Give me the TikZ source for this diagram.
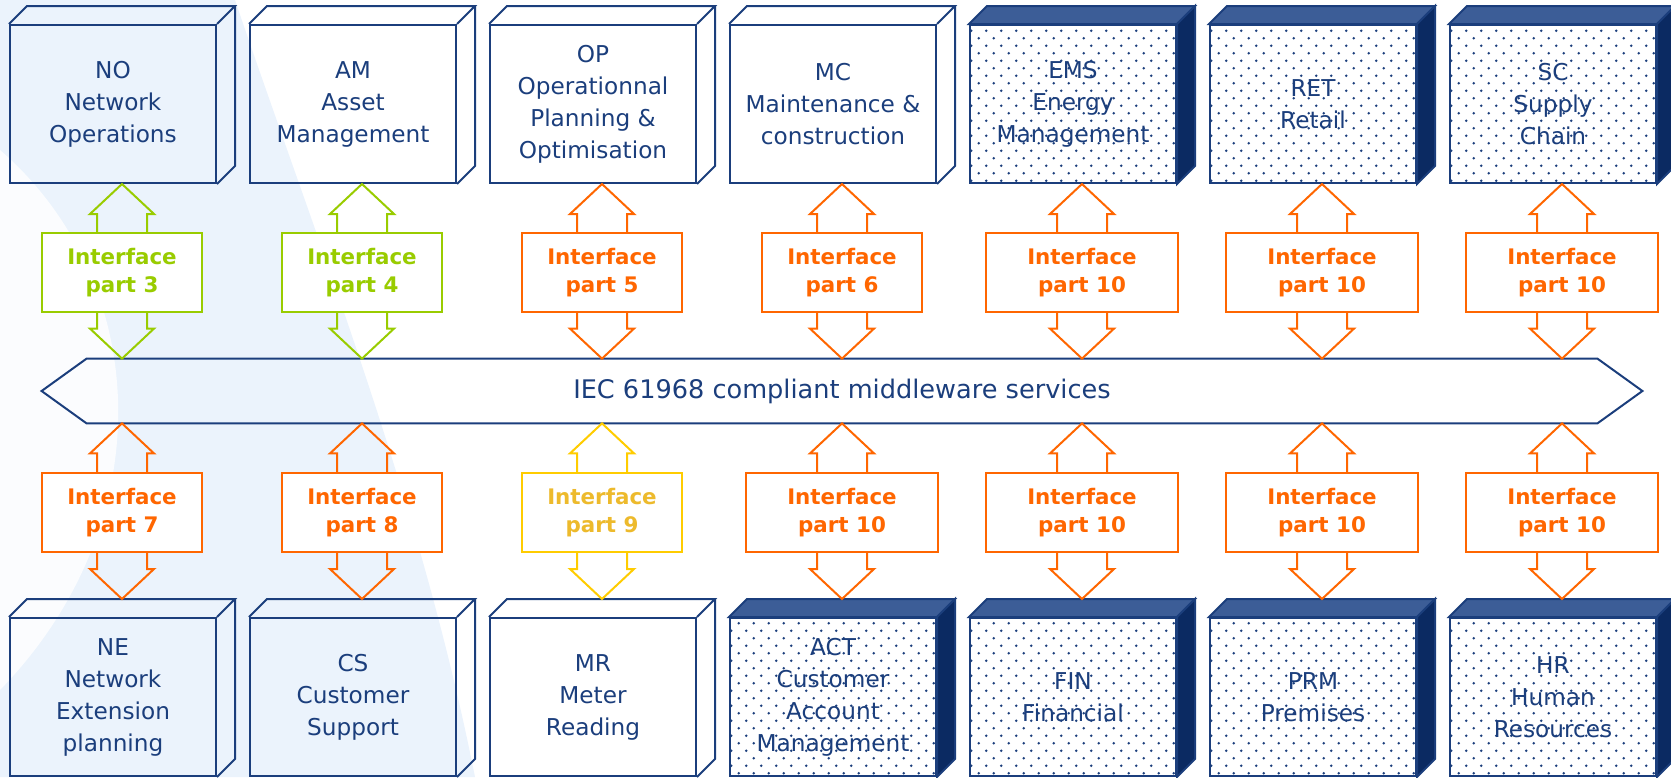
\documentclass[tikz,border=0pt]{standalone}
\usepackage{fontspec}
\setmainfont{DejaVu Sans}
\usetikzlibrary{calc,patterns}

\definecolor{navy}{HTML}{1B3E7C}
\definecolor{navytop}{HTML}{3C5D97}
\definecolor{navyside}{HTML}{0B2A62}
\definecolor{ifcgreen}{HTML}{99CC00}
\definecolor{ifcorange}{HTML}{FF6600}
\definecolor{ifcyellow}{HTML}{FFCC00}
\definecolor{ifcgold}{HTML}{EDBA2C}
\definecolor{bgblue}{HTML}{EBF3FC}

% Sparse staggered dots for the filled system boxes.
\pgfdeclarepatternformonly{sparsedots}{\pgfpoint{-1pt}{-1pt}}{\pgfpoint{8.5pt}{8.5pt}}{\pgfpoint{7.5pt}{7.5pt}}{%
  \pgfpathcircle{\pgfpoint{1.875pt}{1.875pt}}{0.65pt}%
  \pgfpathcircle{\pgfpoint{5.625pt}{5.625pt}}{0.65pt}%
  \pgfusepath{fill}}

% Hollow block arrow from #2 (base centre) to #3 (tip), colour #1.
\newcommand{\blockarrow}[3]{%
  \draw[#1, line width=1pt] let \p1=#2, \p2=#3, \n1={ifthenelse(\y2>\y1,1,-1)} in
    (\x1-12.5pt,\y1) -- (\x1-12.5pt,{\y2-(\n1)*15pt}) -- (\x1-16pt,{\y2-(\n1)*15pt})
    -- (\x1,\y2) -- (\x1+16pt,{\y2-(\n1)*15pt}) -- (\x1+12.5pt,{\y2-(\n1)*15pt}) -- (\x1+12.5pt,\y1);
}

\tikzset{
  sysbox/.style={draw=navy, line width=1pt, minimum width=103pt, minimum height=79pt,
    inner sep=0pt, align=center, text=navy, font=\fontsize{11.6}{16}\selectfont},
  dotbox/.style={sysbox, preaction={fill=white}, pattern=sparsedots, pattern color=navy},
  plainface/.style={draw=navy, line width=1pt},
  topface/.style={draw=navy, line width=1pt, fill=navytop},
  sideface/.style={draw=navy, line width=1pt, fill=navyside},
  ifcbox/.style={draw=#1, line width=1pt, fill=white, minimum height=39.5pt, inner sep=0pt,
    align=center, font=\bfseries\fontsize{10.7}{14}\selectfont},
  mwband/.style={minimum width=755pt, minimum height=32pt, inner sep=0pt, text=navy,
    font=\fontsize{12.8}{15}\selectfont}
}

\begin{document}
\begin{tikzpicture}[x=0.5pt, y=-0.5pt]
  \def \leftx{10};
  \def \pitch{240};
  \def \ytop{104};
  \def \ybottom{697};
  \def \yifctop{272.5};
  \def \yifcbottom{512.5};

  \useasboundingbox (0,0) rectangle (1671,777);

  % Background swoosh.
  \fill[bgblue] (0,0) -- (235,0) .. controls (320,250) and (420,500) .. (475,777) -- (0,777) -- cycle;
  \fill[white, opacity=0.8] (0,150) .. controls (150,280) and (165,520) .. (0,690) -- cycle;

  % Middleware band.
  \node[mwband] (mw) at (842,391) {IEC 61968 compliant middleware services};
  \draw[navy, line width=1pt] (mw.north west) -- (mw.north east) -- ($(mw.east)+(45,0)$)
    -- (mw.south east) -- (mw.south west) -- ($(mw.west)+(-45,0)$) -- cycle;

  % Draw plain system boxes.
  \foreach \i/\name/\txt in {0/no/{NO\\Network\\Operations}, 1/am/{AM\\Asset\\Management},
      2/op/{OP\\Operationnal\\Planning \&\\Optimisation}, 3/mc/{MC\\Maintenance \&\\construction}} {
    \node[sysbox] (\name) at ({\leftx + \i*\pitch + 103}, \ytop) {\txt};
  };
  \foreach \i/\name/\txt in {0/ne/{NE\\Network\\Extension\\planning}, 1/cs/{CS\\Customer\\Support},
      2/mr/{MR\\Meter\\Reading}} {
    \node[sysbox] (\name) at ({\leftx + \i*\pitch + 103}, \ybottom) {\txt};
  };
  \foreach \name in {no, am, op, mc, ne, cs, mr} {
    \draw[plainface] (\name.north west) -- ++(18,-18) -- ($(\name.north east)+(18,-18)$) -- (\name.north east);
    \draw[plainface] ($(\name.north east)+(18,-18)$) -- ($(\name.south east)+(18,-18)$) -- (\name.south east);
  };

  % Draw dotted system boxes.
  \foreach \i/\name/\txt in {4/ems/{EMS\\Energy\\Management}, 5/ret/{RET\\Retail}, 6/sc/{SC\\Supply\\Chain}} {
    \node[dotbox] (\name) at ({\leftx + \i*\pitch + 103}, \ytop) {\txt};
  };
  \foreach \i/\name/\txt in {3/act/{ACT\\Customer\\Account\\Management}, 4/fin/{FIN\\Financial},
      5/prm/{PRM\\Premises}, 6/hr/{HR\\Human\\Resources}} {
    \node[dotbox] (\name) at ({\leftx + \i*\pitch + 103}, \ybottom) {\txt};
  };
  \foreach \name in {ems, ret, sc, act, fin, prm, hr} {
    \draw[topface] (\name.north west) -- ++(18,-18) -- ($(\name.north east)+(18,-18)$) -- (\name.north east) -- cycle;
    \draw[sideface] (\name.north east) -- ++(18,-18) -- ($(\name.south east)+(18,-18)$) -- (\name.south east) -- cycle;
  };

  % Draw top interfaces and their arrows.
  \foreach \sys/\i/\w/\clr/\tclr/\num in {no/0/80/ifcgreen/ifcgreen/3, am/1/80/ifcgreen/ifcgreen/4,
      op/2/80/ifcorange/ifcorange/5, mc/3/80/ifcorange/ifcorange/6, ems/4/96/ifcorange/ifcorange/10,
      ret/5/96/ifcorange/ifcorange/10, sc/6/96/ifcorange/ifcorange/10} {
    \node[ifcbox=\clr, text=\tclr, minimum width=\w pt] (ifc\sys) at ({\leftx + \i*\pitch + 112}, \yifctop) {Interface\\part \num};
    \blockarrow{\clr}{(ifc\sys.north)}{(ifc\sys.north |- \sys.south)}
    \blockarrow{\clr}{(ifc\sys.south)}{(ifc\sys.south |- mw.north)}
  };

  % Draw bottom interfaces and their arrows.
  \foreach \sys/\i/\w/\clr/\tclr/\num in {ne/0/80/ifcorange/ifcorange/7, cs/1/80/ifcorange/ifcorange/8,
      mr/2/80/ifcyellow/ifcgold/9, act/3/96/ifcorange/ifcorange/10, fin/4/96/ifcorange/ifcorange/10,
      prm/5/96/ifcorange/ifcorange/10, hr/6/96/ifcorange/ifcorange/10} {
    \node[ifcbox=\clr, text=\tclr, minimum width=\w pt] (ifc\sys) at ({\leftx + \i*\pitch + 112}, \yifcbottom) {Interface\\part \num};
    \blockarrow{\clr}{(ifc\sys.north)}{(ifc\sys.north |- mw.south)}
    \blockarrow{\clr}{(ifc\sys.south)}{($(ifc\sys.south |- \sys.north)+(0,-18)$)}
  };
\end{tikzpicture}
\end{document}
